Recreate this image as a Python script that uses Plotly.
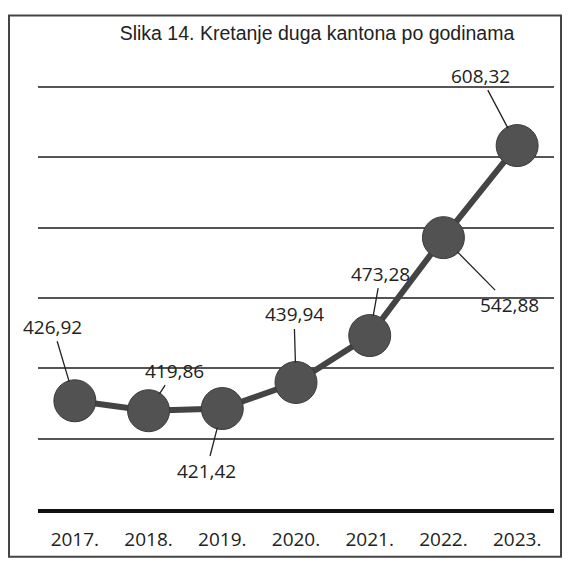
import plotly.graph_objects as go

years = ["2017.", "2018.", "2019.", "2020.", "2021.", "2022.", "2023."]
debt = [426.92, 419.86, 421.42, 439.94, 473.28, 542.88, 608.32]
labels = ["426,92", "419,86", "421,42", "439,94", "473,28", "542,88", "608,32"]
# label offsets (px) relative to each point
label_dx = [-22, 26, -16, -2, 11, 66, -37]
label_dy = [-74, -40, 62, -68, -62, 67, -70]

# page has an 8px body margin, so the figure is sized/offset to compensate
W, H = 563, 556
ML, MR, MT, MB = 30, 17, 76, 52
pw = W - ML - MR
ph = H - MT - MB

fig = go.Figure()
fig.add_trace(go.Scatter(
    x=years, y=debt, mode="lines+markers",
    line=dict(color="#444444", width=6),
    marker=dict(size=42, color="#525252", line=dict(color="#3a3a3a", width=1)),
    hoverinfo="skip", showlegend=False,
))

for i, (y, t, dx, dy) in enumerate(zip(debt, labels, label_dx, label_dy)):
    fig.add_annotation(
        x=i, y=y, xref="x", yref="y", text=t, showarrow=True, arrowhead=0,
        arrowwidth=1.3, arrowcolor="#222222", ax=dx, ay=dy, standoff=20,
        font=dict(family="Open Sans, Lato, sans-serif", size=19, color="#222222"),
    )

def px2paper_x(px):
    return (px - ML) / pw

def px2paper_y(py):
    return (H - MB - py) / ph

# frame of the scanned chart
fig.add_shape(type="rect", xref="paper", yref="paper",
              x0=px2paper_x(1), x1=px2paper_x(553),
              y0=px2paper_y(552), y1=px2paper_y(7),
              line=dict(color="#444444", width=2), fillcolor="rgba(0,0,0,0)",
              layer="below")

fig.update_layout(
    width=W, height=H,
    margin=dict(l=ML, r=MR, t=MT, b=MB),
    paper_bgcolor="white", plot_bgcolor="white",
    title=dict(text="Slika 14. Kretanje duga kantona po godinama",
               x=309 / W, xanchor="center", xref="container",
               y=1 - 25 / H, yanchor="middle", yref="container",
               font=dict(family="Liberation Sans Narrow, Arial Narrow, Liberation Sans, sans-serif",
                         size=19.5, color="#222222")),
    xaxis=dict(type="category", range=[-0.5, 6.5], showgrid=False,
               showline=True, linecolor="#111111", linewidth=4,
               ticks="", ticklabelstandoff=10,
               tickfont=dict(family="Open Sans, Lato, sans-serif", size=19, color="#222222"),
               fixedrange=True),
    yaxis=dict(range=[350, 652.1], dtick=50, tick0=350, showgrid=True,
               gridcolor="#555555", gridwidth=1.5, showticklabels=False,
               zeroline=False, showline=False, ticks="", fixedrange=True),
)

fig.write_html("out.html")
